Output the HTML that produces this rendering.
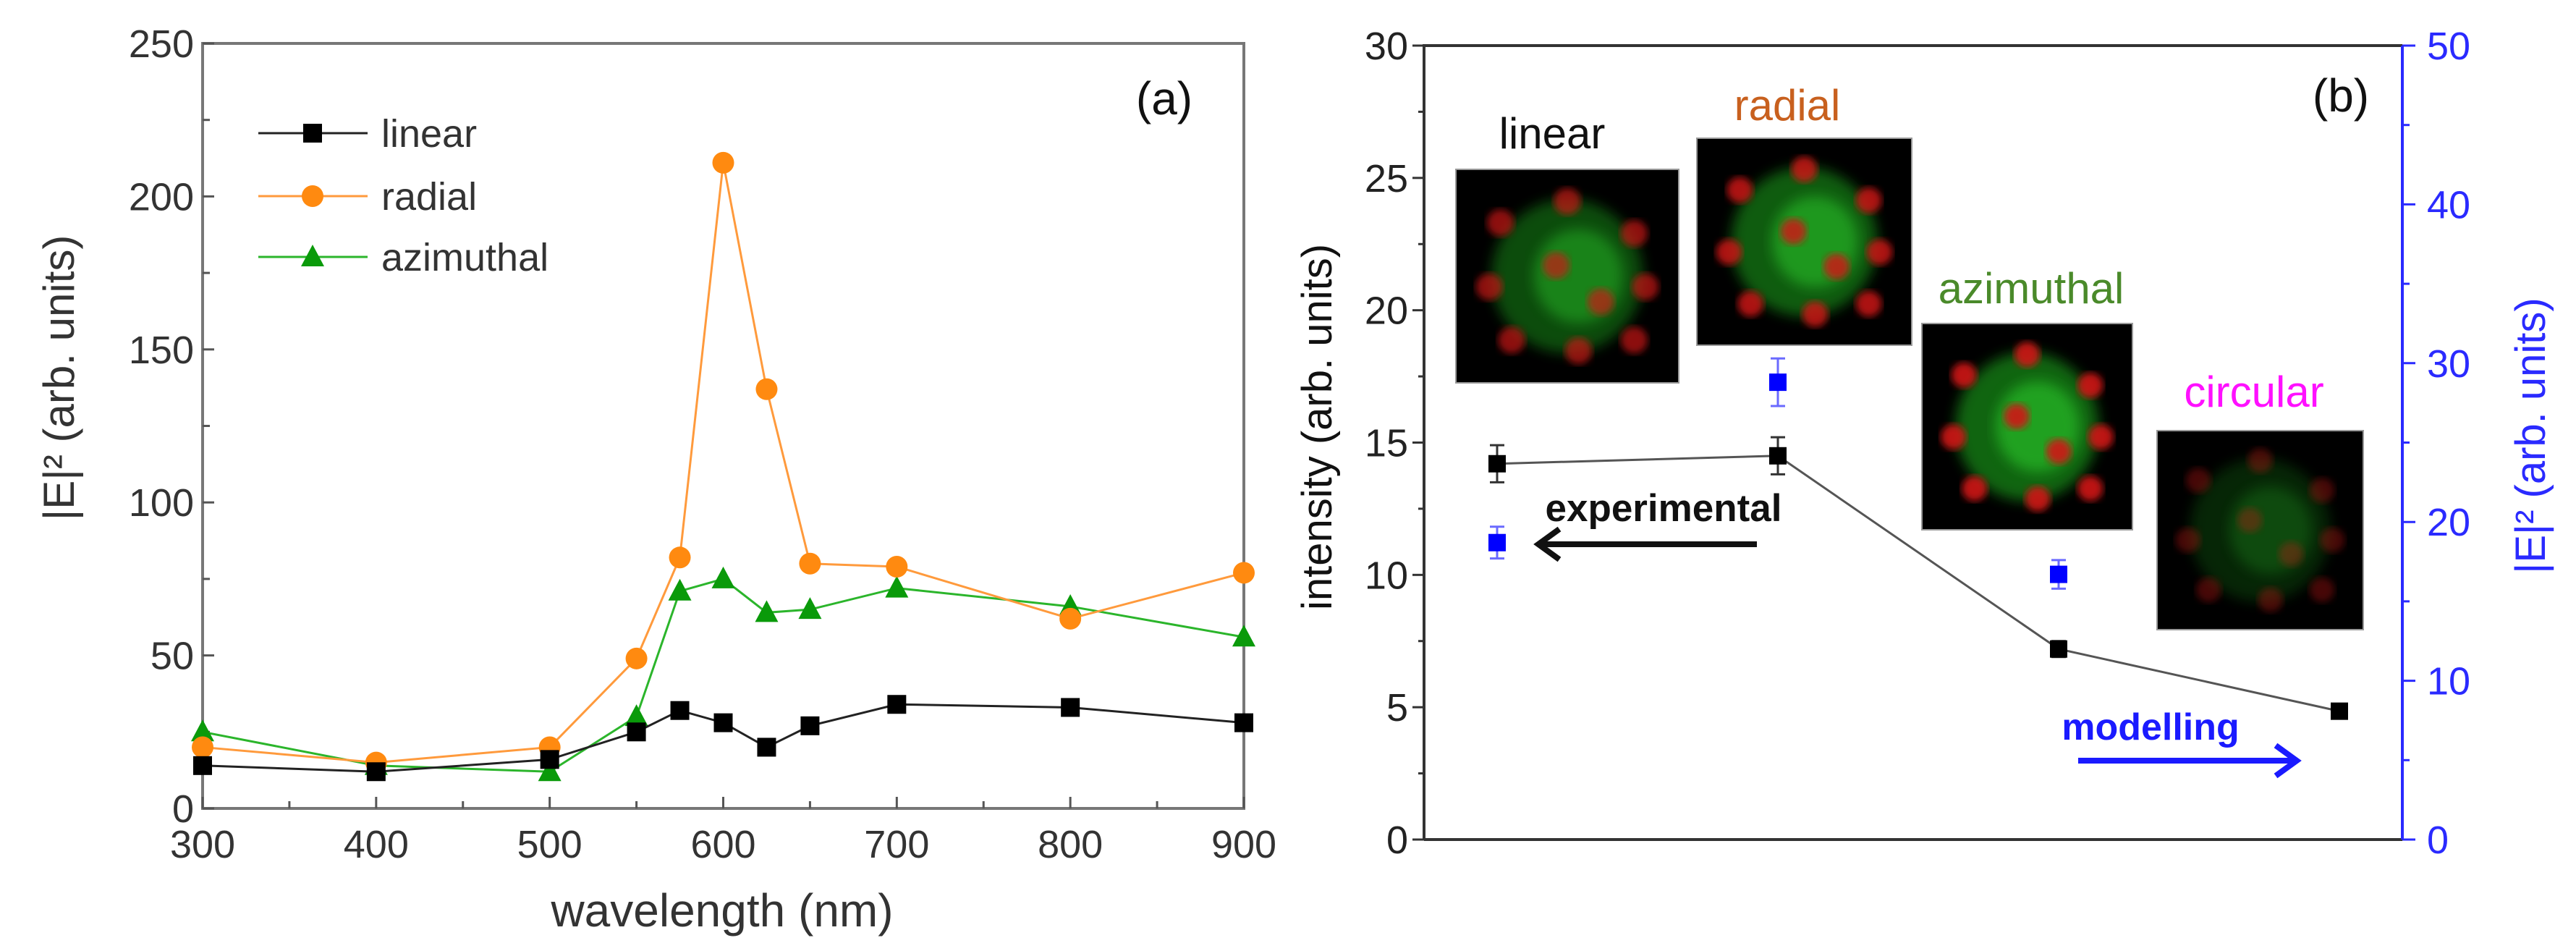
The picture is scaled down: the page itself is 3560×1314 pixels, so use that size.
<!DOCTYPE html>
<html><head><meta charset="utf-8"><style>
html,body{margin:0;padding:0;background:#fff;}
svg{display:block;font-family:"Liberation Sans","DejaVu Sans",sans-serif;}
</style></head><body>
<svg id="fig" width="3560" height="1314" viewBox="0 0 3560 1314" xmlns="http://www.w3.org/2000/svg">
<defs>
<filter id="blur8"><feGaussianBlur stdDeviation="9"/></filter>
<filter id="blur4"><feGaussianBlur stdDeviation="5"/></filter>
</defs>
<g id="pa"></g>
<g id="pb"></g>
</svg>
<script>
// ---------- Panel (a) data ----------
const wavelengths = [300,400,500,550,575,600,625,650,700,800,900];
const linearVals = [14,12,16,25,32,28,20,27,34,33,28];
const radialVals = [20,15,20,49,82,211,137,80,79,62,77];
const azimuthalVals = [25,14,12,30,71,75,64,65,72,66,56];
const aXTicks = [300,400,500,600,700,800,900];
const aYTicks = [0,50,100,150,200,250];
// ---------- Panel (b) data ----------
const polarizations = ["linear","radial","azimuthal","circular"];
const intensityVals = [14.2,14.5,7.2,4.85];
const intensityErr = [0.7,0.7,0.3,0];
const modelVals = [18.7,28.8,16.7];
const modelErr = [1.0,1.5,0.9];
const bLeftTicks = [0,5,10,15,20,25,30];
const bRightTicks = [0,10,20,30,40,50];

const NS="http://www.w3.org/2000/svg";
function mk(parent,tag,attrs,text){const e=document.createElementNS(NS,tag);for(const k in attrs)e.setAttribute(k,attrs[k]);if(text!==undefined)e.textContent=text;parent.appendChild(e);return e;}

// ===== Panel a =====
const pa=document.getElementById('pa');
const aL=280,aR=1719,aT=60,aB=1117;
const ax=v=>aL+(v-300)/600*(aR-aL);
const ay=v=>aB-v/250*(aB-aT);
let frame=mk(pa,'rect',{x:aL,y:aT,width:aR-aL,height:aB-aT,fill:'none',stroke:'#777',"stroke-width":4});


for(let v=300;v<=900;v+=50){const t=mk(pa,'line',{x1:ax(v),x2:ax(v),y1:aB,y2:aB-(v%100?10:16),stroke:'#555',"stroke-width":3});

}
aXTicks.forEach(v=>{const t=mk(pa,'text',{x:ax(v),y:aB+68,"text-anchor":"middle","font-size":54,fill:'#333'},v);

});
for(let v=0;v<=250;v+=25){const t=mk(pa,'line',{x1:aL,x2:aL+(v%50?10:16),y1:ay(v),y2:ay(v),stroke:'#555',"stroke-width":3});

}
aYTicks.forEach(v=>{const t=mk(pa,'text',{x:aL-12,y:ay(v)+19,"text-anchor":"end","font-size":54,fill:'#333'},v);

});
let xt=mk(pa,'text',{x:998,y:1280,"text-anchor":"middle","font-size":64,fill:'#333'},'wavelength (nm)');


let yt=mk(pa,'text',{x:0,y:0,"text-anchor":"middle","font-size":60,fill:'#333',transform:'translate(102,522) rotate(-90)'},'|E|\u00B2 (arb. units)');


let la=mk(pa,'text',{x:1609,y:158,"text-anchor":"middle","font-size":64,fill:'#111'},'(a)');



function marker(g,type,x,y,color,s){
  if(type==='sq') return mk(g,'rect',{x:x-s,y:y-s,width:2*s,height:2*s,fill:color});
  if(type==='ci') return mk(g,'circle',{cx:x,cy:y,r:s+2,fill:color});
  return mk(g,'polygon',{points:`${x},${y-s-4} ${x-s-3},${y+s} ${x+s+3},${y+s}`,fill:color});
}
const seriesA=[["linear",linearVals,'#222','#000','sq'],["radial",radialVals,'#ff9a3c','#ff8a10','ci'],["azimuthal",azimuthalVals,'#2bb52b','#0a9a0a','tr']];
seriesA.slice().reverse().forEach(([nm,vals,lc,mc,mt])=>{
  const g=mk(pa,'g',{});
  
  
  const pl=mk(g,'polyline',{points:wavelengths.map((w,i)=>ax(w)+','+ay(vals[i])).join(' '),fill:'none',stroke:lc,"stroke-width":3});
  
  
  wavelengths.forEach((w,i)=>{const m=marker(g,mt,ax(w),ay(vals[i]),mc,13);
  
  });
});
const legY=[184,271,355];
seriesA.forEach(([nm,vals,lc,mc,mt],i)=>{
  const g=mk(pa,'g',{});
  
  
  mk(g,'line',{x1:357,x2:508,y1:legY[i],y2:legY[i],stroke:lc,"stroke-width":3});
  marker(g,mt,432,legY[i],mc,13);
  mk(g,'text',{x:527,y:legY[i]+19,"font-size":54,fill:'#333'},nm);
});

// ===== Panel b =====
const pb=document.getElementById('pb');
const bL=1968,bR=3320,bT=63,bB=1160;
const bx=i=>2069+i*388;
const byL=v=>bB-v/30*(bB-bT);
const byR=v=>bB-v/50*(bB-bT);
let fb=mk(pb,'path',{d:`M${bL},${bB} L${bL},${bT} L${bR},${bT}`,fill:'none',stroke:'#333',"stroke-width":4});


let fb2=mk(pb,'line',{x1:bL,x2:bR,y1:bB,y2:bB,stroke:'#333',"stroke-width":4});


let ra=mk(pb,'line',{x1:bR,x2:bR,y1:bT,y2:bB,stroke:'#2a2aff',"stroke-width":4});


for(let v=0;v<=30;v+=2.5){const t=mk(pb,'line',{x1:bL-(v%5?8:16),x2:bL,y1:byL(v),y2:byL(v),stroke:'#333',"stroke-width":3});

}
bLeftTicks.forEach(v=>{const t=mk(pb,'text',{x:bL-22,y:byL(v)+19,"text-anchor":"end","font-size":54,fill:'#222'},v);

});
for(let v=0;v<=50;v+=5){const t=mk(pb,'line',{x1:bR,x2:bR+(v%10?10:18),y1:byR(v),y2:byR(v),stroke:'#2a2aff',"stroke-width":3});

}
bRightTicks.forEach(v=>{const t=mk(pb,'text',{x:bR+34,y:byR(v)+19,"font-size":54,fill:'#2a2aff'},v);

});
let lyt=mk(pb,'text',{x:0,y:0,"text-anchor":"middle","font-size":58,fill:'#111',transform:'translate(1840,590) rotate(-90)'},'intensity (arb. units)');


let ryt=mk(pb,'text',{x:0,y:0,"text-anchor":"middle","font-size":58,fill:'#2a2aff',transform:'translate(3517,602) rotate(-90)'},'|E|\u00B2 (arb. units)');


let lb=mk(pb,'text',{x:3235,y:154,"text-anchor":"middle","font-size":64,fill:'#111'},'(b)');



// micrographs
const imgs=[[2012,234,308,295,0.9],[2345,191,297,286,1.1],[2656,447,291,285,1.2],[2981,595,285,275,0.45]];
const labs=[[2145,205,'#111'],[2470,166,'#c8601e'],[2807,419,'#4a8a2a'],[3115,562,'#ff10ff']];
const cellSpots=[[-0.3,-0.25],[0,-0.35],[0.3,-0.2],[-0.35,0.05],[0.35,0.05],[-0.25,0.3],[0.05,0.35],[0.3,0.3],[-0.05,-0.05],[0.15,0.12]];
imgs.forEach(([x,y,w,h,k],i)=>{
  const g=mk(pb,'g',{});
  
  
  mk(g,'rect',{x:x,y:y,width:w,height:h,fill:'#000',stroke:'#999',"stroke-width":2});
  const cx=x+w/2,cy=y+h/2;
  mk(g,'ellipse',{cx:cx,cy:cy,rx:w*0.34,ry:h*0.36,fill:'#1fa81f',opacity:0.5*k,filter:'url(#blur8)'});
  mk(g,'ellipse',{cx:cx+w*0.05,cy:cy,rx:w*0.2,ry:h*0.22,fill:'#2fd52f',opacity:0.45*k,filter:'url(#blur8)'});
  cellSpots.forEach(([dx,dy])=>mk(g,'circle',{cx:cx+dx*w,cy:cy+dy*h,r:w*0.06,fill:'#d01818',opacity:Math.min(1,0.75*k),filter:'url(#blur4)'}));
  const t=mk(pb,'text',{x:labs[i][0],y:labs[i][1],"text-anchor":"middle","font-size":60,fill:labs[i][2]},polarizations[i]);
  
  
});

// intensity series
const ig=mk(pb,'g',{});


mk(ig,'polyline',{points:intensityVals.map((v,i)=>bx(i)+','+byL(v)).join(' '),fill:'none',stroke:'#555',"stroke-width":3});
intensityVals.forEach((v,i)=>{
  if(intensityErr[i]>0){
    const e=mk(ig,'path',{d:`M${bx(i)},${byL(v-intensityErr[i])}V${byL(v+intensityErr[i])}M${bx(i)-10},${byL(v-intensityErr[i])}h20M${bx(i)-10},${byL(v+intensityErr[i])}h20`,stroke:'#333',"stroke-width":3,fill:'none'});
    
    
  }
  const m=mk(ig,'rect',{x:bx(i)-12,y:byL(v)-12,width:24,height:24,fill:'#000'});
  
  
});
// model series
const mg=mk(pb,'g',{});


modelVals.forEach((v,i)=>{
  const e=mk(mg,'path',{d:`M${bx(i)},${byR(v-modelErr[i])}V${byR(v+modelErr[i])}M${bx(i)-10},${byR(v-modelErr[i])}h20M${bx(i)-10},${byR(v+modelErr[i])}h20`,stroke:'#6a6aff',"stroke-width":3,fill:'none'});
  
  
  const m=mk(mg,'rect',{x:bx(i)-12,y:byR(v)-12,width:24,height:24,fill:'#0000ff'});
  
  
});
// annotations
let ex=mk(pb,'text',{x:2299,y:720,"text-anchor":"middle","font-size":53,"font-weight":"bold",fill:'#111'},'experimental');


let ea=mk(pb,'path',{d:'M2428,752H2128M2155,731L2126,752L2155,773',stroke:'#111',"stroke-width":8,fill:'none'});


let mo=mk(pb,'text',{x:2972,y:1022,"text-anchor":"middle","font-size":52,"font-weight":"bold",fill:'#1a1aff'},'modelling');


let ma=mk(pb,'path',{d:'M2872,1051H3172M3145,1030L3174,1051L3145,1072',stroke:'#1a1aff',"stroke-width":8,fill:'none'});


</script>
</body></html>
